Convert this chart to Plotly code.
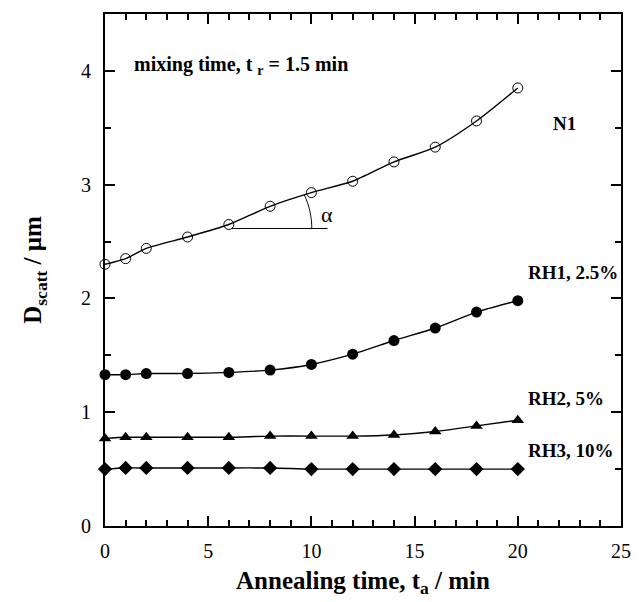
import numpy as np
import plotly.graph_objects as go

# ---- data ----
t_anneal = [0, 1, 2, 4, 6, 8, 10, 12, 14, 16, 18, 20]
n1 = [2.30, 2.35, 2.44, 2.54, 2.65, 2.81, 2.93, 3.03, 3.20, 3.33, 3.56, 3.85]
rh1 = [1.33, 1.33, 1.34, 1.34, 1.35, 1.37, 1.42, 1.51, 1.63, 1.74, 1.88, 1.98]
rh2 = [0.77, 0.78, 0.78, 0.78, 0.78, 0.79, 0.79, 0.79, 0.80, 0.83, 0.88, 0.93]
rh3 = [0.50, 0.51, 0.51, 0.51, 0.51, 0.51, 0.50, 0.50, 0.50, 0.50, 0.50, 0.50]
series_names = ["N1", "RH1, 2.5%", "RH2, 5%", "RH3, 10%"]
x_ticks = [0, 5, 10, 15, 20, 25]
y_ticks = [0, 1, 2, 3, 4]

FONT = "Liberation Serif, Times New Roman, serif"
W, H = 643, 602
ML, MR, MT, MB = 105, 21, 13, 74
XMAX, YMAX = 25, 4.5
px_x = (W - ML - MR) / XMAX
px_y = (H - MT - MB) / YMAX

fig = go.Figure()

styles = [
    dict(symbol="circle-open", size=10, color="black", line=dict(width=1, color="black")),
    dict(symbol="circle", size=11, color="black"),
    dict(symbol="triangle-up", size=11, color="black"),
    dict(symbol="diamond", size=11, color="black"),
]
for ys, st, nm in zip([n1, rh1, rh2, rh3], styles, series_names):
    fig.add_trace(go.Scatter(
        x=t_anneal, y=ys, mode="lines+markers", name=nm,
        line=dict(color="black", width=1.4, shape="spline", smoothing=0.7),
        marker=st, cliponaxis=False, showlegend=False))

# series labels
label_pos = [(21.6, 3.54), (20.4, 2.23), (20.4, 1.12), (20.4, 0.66)]
for nm, (lx, ly) in zip(series_names, label_pos):
    fig.add_annotation(x=lx, y=ly, text="<b>%s</b>" % nm, showarrow=False,
                       xanchor="left", yanchor="middle",
                       font=dict(family=FONT, size=19, color="black"))

fig.add_annotation(x=1.3, y=4.05, text="<b>mixing time, t <sub>r</sub> = 1.5 min</b>",
                   showarrow=False, xanchor="left", yanchor="middle",
                   font=dict(family=FONT, size=20, color="black"))

# angle indicator
cx, cy = 6.15, 2.615
fig.add_shape(type="line", x0=cx, y0=cy, x1=10.78, y1=cy,
              line=dict(color="black", width=1))
r_px = 80
ang = np.radians(np.linspace(0, 25, 20))
ax_ = cx + r_px * np.cos(ang) / px_x
ay_ = cy + r_px * np.sin(ang) / px_y
path = "M " + " L ".join("%.4f,%.4f" % (a, b) for a, b in zip(ax_, ay_))
fig.add_shape(type="path", path=path, line=dict(color="black", width=1))
fig.add_annotation(x=10.75, y=2.74, text="α", showarrow=False,
                   font=dict(family=FONT, size=22, color="black"))

axis_common = dict(showline=True, linecolor="black", linewidth=2, mirror="ticks",
                   ticks="inside", tickcolor="black", tickwidth=1.5,
                   showgrid=False, zeroline=False,
                   tickfont=dict(family=FONT, size=20, color="black"))
fig.update_xaxes(range=[0, XMAX], tickvals=x_ticks, ticklen=10,
                 minor=dict(dtick=1, ticklen=6, ticks="inside", tickcolor="black", tickwidth=1.5),
                 title=dict(text="<b>Annealing time, t<sub>a</sub> / min</b>",
                            font=dict(family=FONT, size=25, color="black"), standoff=10),
                 ticklabelstandoff=6, **axis_common)
fig.update_yaxes(range=[0, YMAX], tickvals=y_ticks, ticklen=10,
                 minor=dict(dtick=0.5, ticklen=6, ticks="inside", tickcolor="black", tickwidth=1.5),
                 title=dict(text="<b>D<sub>scatt</sub> / μm</b>",
                            font=dict(family=FONT, size=25, color="black"), standoff=32),
                 ticklabelstandoff=8, **axis_common)

fig.update_layout(width=W, height=H, margin=dict(l=ML, r=MR, t=MT, b=MB),
                  paper_bgcolor="white", plot_bgcolor="white", showlegend=False)

fig.write_html("out.html")
